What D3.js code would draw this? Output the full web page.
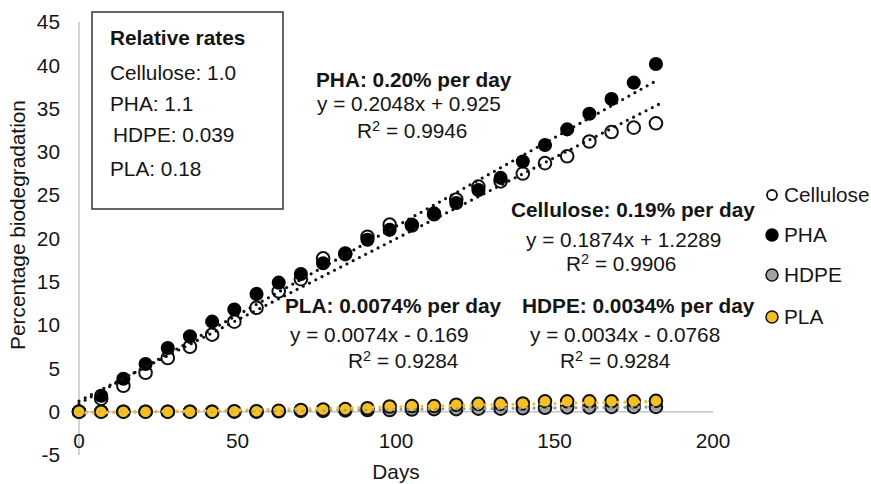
<!DOCTYPE html>
<html><head><meta charset="utf-8">
<script src="https://cdn.jsdelivr.net/npm/d3@7/dist/d3.min.js"></script>
<style>
html,body{margin:0;padding:0;background:#fff;}
svg{display:block;font-family:"Liberation Sans",Arial,Helvetica,sans-serif;}
</style></head>
<body>
<svg id="chart" width="871" height="484"></svg>
<script>
// ---- data ----
const days = [0,7,14,21,28,35,42,49,56,63,70,77,84,91,98,105,112,119,126,133,140,147,154,161,168,175,182];
const cellulose = [0,1.5,3.0,4.5,6.2,7.5,8.9,10.4,12.0,13.9,15.3,17.7,18.2,20.2,21.6,21.5,22.8,24.5,26.0,26.6,27.5,28.7,29.5,31.2,32.3,32.8,33.3];
const pha = [0,1.85,3.8,5.5,7.35,8.7,10.4,11.8,13.6,14.9,15.9,17.15,18.3,19.85,21.0,21.6,22.9,24.1,25.6,27.0,28.9,30.8,32.6,34.4,36.1,38.0,40.15];
const hdpe = [0,0,0,0,0,0,0,0,0,0.05,0.1,0.1,0.15,0.2,0.2,0.25,0.3,0.3,0.35,0.35,0.4,0.45,0.5,0.5,0.55,0.55,0.55];
const pla = [0,0,0,0,0,0,0,0.05,0.05,0.1,0.2,0.25,0.3,0.4,0.6,0.65,0.65,0.8,0.9,0.9,0.95,1.2,1.2,1.2,1.2,1.2,1.25];
const seriesNames = ["Cellulose","PHA","HDPE","PLA"];
const trendSlope = [0.1874,0.2048,0.0034,0.0074];
const trendIntercept = [1.2289,0.925,-0.0768,-0.169];
const xTicks = [0,50,100,150,200];
const yTicks = [-5,0,5,10,15,20,25,30,35,40,45];
const boxLines = ["Relative rates","Cellulose: 1.0","PHA: 1.1","HDPE: 0.039","PLA: 0.18"];
const annotations = [
  ["PHA: 0.20% per day","y = 0.2048x + 0.925","0.9946"],
  ["Cellulose: 0.19% per day","y = 0.1874x + 1.2289","0.9906"],
  ["PLA: 0.0074% per day","y = 0.0074x - 0.169","0.9284"],
  ["HDPE: 0.0034% per day","y = 0.0034x - 0.0768","0.9284"]
];

// ---- styles ----
const fills = ["#ffffff","#000000","#a3a3a3","#f4c025"];
const strokes = ["#111","#000","#111","#111"];
const trendColors = ["#111","#111","#9a9a9a","#f4c025"];
const FS = 20.8;
const TC = "#151515";

const svg = d3.select("#chart");
const x = d3.scaleLinear().domain([0,200]).range([79,713]);
const y = d3.scaleLinear().domain([-5,45]).range([455,22]);

function txt(g, s, px, py, opts={}) {
  const t = g.append("text")
    .attr("x", px).attr("y", py)
    .attr("font-size", opts.size || FS)
    .attr("font-weight", opts.bold ? "bold" : "normal")
    .attr("text-anchor", opts.anchor || "start")
    .attr("fill", TC);
  if (opts.dy) t.attr("dy", opts.dy);
  t.text(s);
  return t;
}
function rsq(g, val, px, py) {
  const t = g.append("text")
    .attr("x", px).attr("y", py)
    .attr("font-size", FS).attr("fill",TC);
  t.append("tspan").text("R");
  t.append("tspan").attr("font-size", 14.5).attr("dy", -7.5).text("2");
  t.append("tspan").attr("dy", 7.5).text(" = " + val);
}

// axes lines
svg.append("line").attr("x1", x(0)).attr("x2", x(0)).attr("y1", y(45)).attr("y2", y(-5))
  .attr("stroke","#c4c4c4").attr("stroke-width",1.5);
svg.append("line").attr("x1", x(0)).attr("x2", x(200)).attr("y1", y(0)).attr("y2", y(0))
  .attr("stroke","#c4c4c4").attr("stroke-width",1.5);

// tick labels
const gy = svg.append("g");
yTicks.forEach(v => txt(gy, String(v), 60, y(v), {anchor:"end", dy:"0.35em"}));
const gx = svg.append("g");
xTicks.forEach(v => txt(gx, String(v), x(v), y(0) + 29, {anchor:"middle", dy:"0.35em"}));

// axis titles
svg.append("text").attr("transform","translate(25,225) rotate(-90)")
  .attr("text-anchor","middle").attr("font-size",FS).attr("fill",TC)
  .text("Percentage biodegradation");
txt(svg, "Days", x(100), 479, {anchor:"middle"});

// points
const allSeries = [cellulose, pha, hdpe, pla];
allSeries.forEach((vals, i) => {
  svg.append("g").selectAll("circle").data(days).join("circle")
    .attr("cx", d => x(d)).attr("cy", (d, j) => y(vals[j]))
    .attr("r", 6.3)
    .attr("fill", fills[i]).attr("stroke", strokes[i])
    .attr("stroke-width", i === 1 ? 1.5 : 2);
});

// trend lines
[0,1,2,3].forEach(i => {
  svg.append("line")
    .attr("x1", x(0)).attr("y1", y(trendIntercept[i]))
    .attr("x2", x(183)).attr("y2", y(trendSlope[i]*183 + trendIntercept[i]))
    .attr("stroke", trendColors[i]).attr("stroke-width", 3.2)
    .attr("stroke-linecap","round").attr("stroke-dasharray","0,7");
});

// relative rates box
svg.append("rect").attr("x",92).attr("y",12).attr("width",191).attr("height",197)
  .attr("fill","#fff").attr("stroke","#333").attr("stroke-width",1.5);
const bx = [110,110,110,113,110];
const by = [45,80,111,142,176];
boxLines.forEach((s, i) => txt(svg, s, bx[i], by[i], {bold: i === 0}));

// annotations
const annPos = [
  [[316,87],[317,111],[357,138]],
  [[511,217],[526,247],[566,271]],
  [[285,313],[290,342],[348,368]],
  [[522,313],[530,342],[560,368]]
];
annotations.forEach((a, i) => {
  txt(svg, a[0], annPos[i][0][0], annPos[i][0][1], {bold:true});
  txt(svg, a[1], annPos[i][1][0], annPos[i][1][1]);
  rsq(svg, a[2], annPos[i][2][0], annPos[i][2][1]);
});

// legend
const legY = [195,235,275,317];
seriesNames.forEach((n, i) => {
  svg.append("circle").attr("cx",772).attr("cy",legY[i]).attr("r", i === 0 ? 5 : 6)
    .attr("fill", fills[i]).attr("stroke", strokes[i]).attr("stroke-width", i === 0 ? 1.8 : 1.5);
  txt(svg, n, 784, legY[i], {dy:"0.35em"});
});
</script>
</body></html>
